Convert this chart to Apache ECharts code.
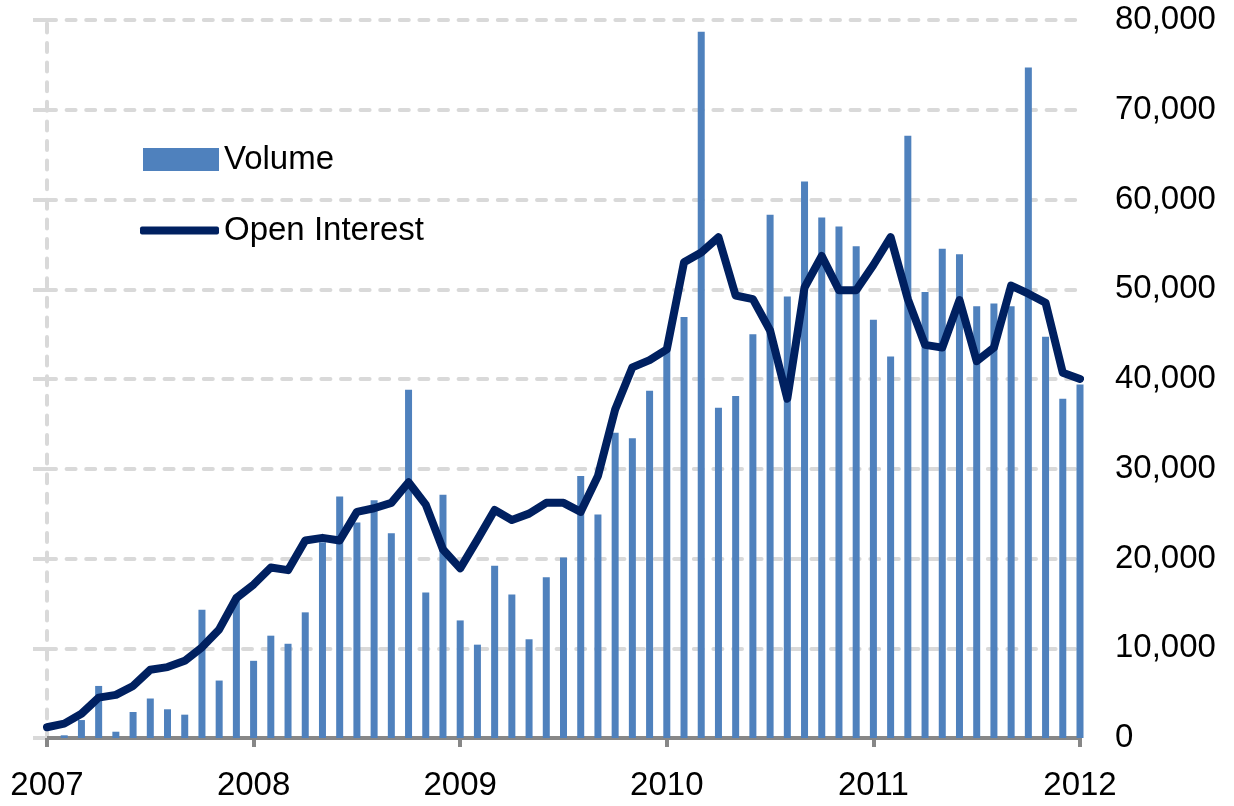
<!DOCTYPE html>
<html>
<head>
<meta charset="utf-8">
<title>Volume and Open Interest</title>
<script src="https://cdn.jsdelivr.net/npm/echarts@6/dist/echarts.min.js"></script>
<style>
  html, body { margin: 0; padding: 0; background: #fff; }
  #main { width: 1234px; height: 806px; }
</style>
</head>
<body>
<div id="main"></div>
<script>
// months Jan 2007 .. Jan 2012
const years = [2007, 2008, 2009, 2010, 2011, 2012];
const months = [];
years.forEach((y) => {
  for (let m = 1; m <= 12; m++) {
    if (y === 2012 && m > 1) break;
    months.push(y + '-' + (m < 10 ? '0' + m : m));
  }
});

// monthly volume, Feb 2007 .. Jan 2012
const volume = [
  300, 2000, 5800, 700, 2900, 4400, 3200, 2600, 14300, 6400, 15400,
  8600, 11400, 10500, 14000, 21800, 26900, 24000, 26500, 22800, 38800, 16200, 27100,
  13100, 10400, 19200, 16000, 11000, 17900, 20100, 29200, 24900, 34000, 33400, 38700,
  43200, 46900, 78700, 36800, 38100, 45000, 58300, 49200, 62000, 58000, 57000, 54800,
  46600, 42500, 67100, 49700, 54500, 53900, 48100, 48400, 48100, 74700, 44700, 37800,
  39400
];

// month-end open interest, Jan 2007 .. Jan 2012
const openInterest = [
  1200, 1600, 2700, 4500, 4800, 5800, 7600, 7900, 8600, 10100, 12100, 15600,
  17100, 19000, 18700, 22000, 22300, 22000, 25200, 25600, 26200, 28500, 26000, 21000,
  18900, 22100, 25400, 24300, 25000, 26200, 26200, 25200, 29200, 36600, 41300, 42100,
  43300, 53000, 54100, 55800, 49300, 48900, 45400, 37800, 50200, 53700, 49900, 49900,
  52700, 55800, 48900, 43800, 43500, 48800, 42000, 43500, 50400, 49500, 48500, 40700,
  40000
];

const chartDom = document.getElementById('main');
const myChart = echarts.init(chartDom);

const font = '"Liberation Sans", Arial, sans-serif';
const gridStyle = {
  color: '#D9D9D9',
  width: 4,
  type: [9, 10.6],
  cap: 'round'
};
const isYear = (index) => index % 12 === 0;

const option = {
  animation: false,
  textStyle: { fontFamily: font },
  grid: { left: 47, right: 154, top: 20, bottom: 68 },
  legend: [
    {
      data: ['Volume'],
      icon: 'rect',
      left: 143, top: 143,
      padding: 0,
      itemWidth: 76, itemHeight: 23,
      textStyle: { fontSize: 33, color: '#000', fontFamily: font }
    },
    {
      data: ['Open Interest'],
      icon: 'roundRect',
      left: 140, top: 214,
      padding: 0,
      itemWidth: 79, itemHeight: 8,
      textStyle: { fontSize: 33, color: '#000', fontFamily: font }
    }
  ],
  xAxis: {
    type: 'category',
    data: months,
    boundaryGap: false,
    axisLine: { lineStyle: { color: '#878787', width: 4 } },
    axisTick: {
      interval: isYear,
      length: 9,
      lineStyle: { color: '#878787', width: 4 }
    },
    axisLabel: {
      interval: isYear,
      formatter: (v) => v.slice(0, 4),
      fontSize: 33,
      color: '#000',
      margin: 31,
      fontFamily: font
    },
    splitLine: { show: false }
  },
  yAxis: [
    {
      type: 'value',
      position: 'right',
      min: 0, max: 80000, interval: 10000,
      axisLine: { show: false },
      axisTick: { show: false },
      axisLabel: {
        fontSize: 33,
        color: '#000',
        margin: 35,
        fontFamily: font,
        formatter: (v) => v.toLocaleString('en-US')
      },
      splitLine: { lineStyle: gridStyle }
    },
    {
      // dashed left edge with outward ticks, like the Excel primary axis
      type: 'value',
      position: 'left',
      min: 0, max: 80000, interval: 10000,
      axisLine: { show: true, lineStyle: gridStyle },
      axisTick: { show: true, length: 14, lineStyle: { color: '#D9D9D9', width: 4 } },
      axisLabel: { show: false },
      splitLine: { show: false }
    }
  ],
  series: [
    {
      name: 'Volume',
      type: 'bar',
      data: ['-'].concat(volume),
      barWidth: 7,
      itemStyle: { color: '#4F81BD' }
    },
    {
      name: 'Open Interest',
      type: 'line',
      data: openInterest,
      symbol: 'none',
      lineStyle: { color: '#002060', width: 8, cap: 'round', join: 'round' },
      itemStyle: { color: '#002060' },
      z: 5
    }
  ]
};

myChart.setOption(option);
</script>
</body>
</html>
